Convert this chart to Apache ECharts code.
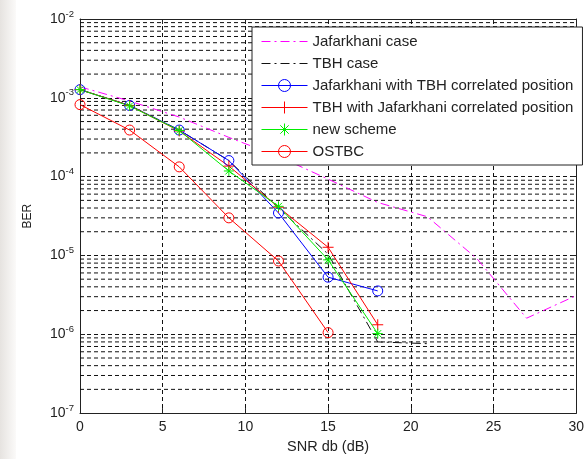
<!DOCTYPE html>
<html>
<head>
<meta charset="utf-8">
<script src="https://cdn.jsdelivr.net/npm/echarts@6/dist/echarts.min.js"></script>
<style>
html,body{margin:0;padding:0;background:#fff;}
#chart{width:587px;height:459px;}
</style>
</head>
<body>
<div id="chart"></div>
<script>
// ---- data ----
const snr = [0, 3, 6, 9, 12, 15, 18];
const jafCaseSnr = [0, 3, 6, 9, 12, 15, 18, 21, 24, 27, 30];
const jafCase = [1.38e-3, 9.1e-4, 5.7e-4, 3.15e-4, 1.8e-4, 9.3e-5, 4.7e-5, 3.1e-5, 9.1e-6, 1.6e-6, 3.1e-6];
const tbhCaseSnr = [0, 3, 6, 9, 12, 15, 18, 21];
const tbhCase = [1.27e-3, 8.0e-4, 3.9e-4, 1.6e-4, 4.0e-5, 1.04e-5, 8.0e-7, 7.6e-7];
const jafWithTbh = [1.27e-3, 8.0e-4, 3.9e-4, 1.6e-4, 3.46e-5, 5.3e-6, 3.55e-6];
const tbhWithJaf = [1.27e-3, 8.0e-4, 3.8e-4, 1.36e-4, 4.1e-5, 1.27e-5, 1.32e-6];
const newScheme = [1.27e-3, 7.9e-4, 3.85e-4, 1.18e-4, 4.2e-5, 8.8e-6, 1.02e-6];
const ostbcSnr = [0, 3, 6, 9, 12, 15];
const ostbc = [8.2e-4, 3.9e-4, 1.33e-4, 3.0e-5, 8.5e-6, 1.05e-6];
const seriesNames = ['Jafarkhani case', 'TBH case', 'Jafarkhani with TBH correlated position',
  'TBH with Jafarkhani correlated position', 'new scheme', 'OSTBC'];
const seriesColors = ['#ff00ff', '#111111', '#0000ff', '#ff0000', '#00ee00', '#ff0000'];
const xRange = [0, 30];

// minor log grid lines (2..9 x 10^k)
const minorValues = [];
for (let k = -7; k <= -3; k++) for (let m = 2; m <= 9; m++) minorValues.push(m * Math.pow(10, k));

const pair = (xs, ys) => xs.map((x, i) => [x, ys[i]]);
const FONT = 'Arial, "Liberation Sans", sans-serif';
const plusPath = 'path://M5 0L5 10M0 5L10 5';
const starPath = 'path://M5 0L5 10M0 5L10 5M1.5 1.5L8.5 8.5M8.5 1.5L1.5 8.5';
const hiddenMarker = 'path://M0 0L10 10';
const dashDot = [9, 4, 2, 4];
const dashed = () => ({ color: '#111', width: 1, type: [4, 3], opacity: 1 });
const invisible = { color: 'rgba(0,0,0,0)', borderColor: 'rgba(0,0,0,0)', borderWidth: 0 };

const chart = echarts.init(document.getElementById('chart'), null, { renderer: 'canvas' });

function lineSeries(i, data, opts) {
  const color = seriesColors[i];
  return Object.assign({
    name: seriesNames[i], type: 'line', data: data, xAxisIndex: 0, yAxisIndex: 0,
    lineStyle: { color: color, width: 1 },
    itemStyle: { color: 'rgba(0,0,0,0)', borderColor: color, borderWidth: 1 },
    symbolSize: 10, animation: false, clip: true, z: 3
  }, opts);
}

// minor grid: one line series per minor value, spanning the x range
const minorSeries = minorValues.map(v => ({
  type: 'line', data: [[xRange[0], v], [xRange[1], v]], symbol: 'none', showSymbol: false,
  silent: true, z: 1, animation: false, lineStyle: dashed(), legendHoverLink: false,
  emphasis: { disabled: true }, tooltip: { show: false }
}));

const option = {
  backgroundColor: '#fff',
  animation: false,
  graphic: [{
    type: 'rect', left: 0, top: 0, z: -10, silent: true,
    shape: { width: 16, height: 459 },
    style: { fill: new echarts.graphic.LinearGradient(0, 0, 1, 0, [
      { offset: 0, color: '#e6e3e0' }, { offset: 1, color: '#fbfaf9' }]) }
  }],
  grid: { left: 80, right: 1, top: 19, bottom: 40, containLabel: false },
  xAxis: [{
    type: 'value', min: xRange[0], max: xRange[1], interval: 5, position: 'bottom',
    name: 'SNR db (dB)', nameLocation: 'middle', nameGap: 23,
    nameTextStyle: { fontFamily: FONT, fontSize: 14.5, color: '#222' },
    axisLine: { show: true, onZero: false, lineStyle: { color: '#222', width: 1 } },
    axisTick: { show: true, inside: true, length: 5, lineStyle: { color: '#222' } },
    axisLabel: { fontFamily: FONT, fontSize: 14, color: '#222', margin: 7 },
    splitLine: { show: true, lineStyle: dashed() }
  }, {
    type: 'value', min: xRange[0], max: xRange[1], interval: 5, position: 'top',
    axisLine: { show: true, onZero: false, lineStyle: { color: '#222', width: 1 } },
    axisTick: { show: true, inside: true, length: 5, lineStyle: { color: '#222' } },
    axisLabel: { show: false }, splitLine: { show: false }
  }],
  yAxis: [{
    type: 'log', logBase: 10, min: 1e-7, max: 1e-2, position: 'left',
    name: 'BER', nameLocation: 'middle', nameGap: 46, nameRotate: 90,
    nameTextStyle: { fontFamily: FONT, fontSize: 12, color: '#222' },
    axisLine: { show: true, onZero: false, lineStyle: { color: '#222', width: 1 } },
    axisTick: { show: true, inside: true, length: 5, lineStyle: { color: '#222' } },
    axisLabel: {
      margin: 6, color: '#222', fontFamily: FONT,
      formatter: function (v) {
        const e = Math.round(Math.log10(v));
        return '{b|10}{s|' + e + '}';
      },
      rich: {
        b: { fontFamily: FONT, fontSize: 14, color: '#222', lineHeight: 20, verticalAlign: 'middle' },
        s: { fontFamily: FONT, fontSize: 9.5, color: '#222', lineHeight: 10, verticalAlign: 'top' }
      }
    },
    splitLine: { show: true, lineStyle: dashed() }
  }, {
    type: 'log', logBase: 10, min: 1e-7, max: 1e-2, position: 'right',
    axisLine: { show: true, onZero: false, lineStyle: { color: '#222', width: 1 } },
    axisTick: { show: true, inside: true, length: 5, lineStyle: { color: '#222' } },
    axisLabel: { show: false }, splitLine: { show: false }
  }],
  legend: {
    orient: 'vertical', left: 252, top: 27,
    data: seriesNames,
    backgroundColor: '#fff', borderColor: '#222', borderWidth: 1, borderRadius: 0,
    padding: [7, 9, 6, 9], itemGap: 7, itemWidth: 46, itemHeight: 15,
    lineStyle: { width: 1 },
    itemStyle: { borderWidth: 1 },
    textStyle: { fontFamily: FONT, fontSize: 15, color: '#222', padding: [0, 0, 0, 0] },
    z: 10
  },
  series: minorSeries.concat([
    lineSeries(0, pair(jafCaseSnr, jafCase), {
      symbol: hiddenMarker, showSymbol: false, itemStyle: invisible,
      lineStyle: { color: seriesColors[0], width: 1, type: dashDot }
    }),
    lineSeries(1, pair(tbhCaseSnr, tbhCase), {
      symbol: hiddenMarker, showSymbol: false, itemStyle: invisible,
      lineStyle: { color: seriesColors[1], width: 1, type: dashDot }
    }),
    lineSeries(2, pair(snr, jafWithTbh), { symbol: 'circle', symbolSize: 10 }),
    lineSeries(3, pair(snr, tbhWithJaf), { symbol: plusPath, symbolSize: 11 }),
    lineSeries(4, pair(snr, newScheme), { symbol: starPath, symbolSize: 10 }),
    lineSeries(5, pair(ostbcSnr, ostbc), { symbol: 'circle', symbolSize: 10 })
  ])
};
chart.setOption(option);
</script>
</body>
</html>
